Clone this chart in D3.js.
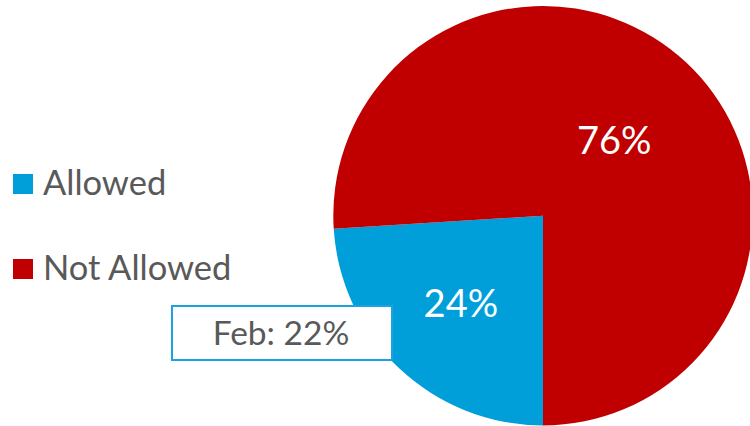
<!DOCTYPE html>
<html>
<head>
<meta charset="utf-8">
<script src="https://cdn.jsdelivr.net/npm/d3@7"></script>
<style>
  html, body { margin: 0; padding: 0; background: #fff; }
  svg { display: block; font-family: Lato, "Open Sans", sans-serif; }
</style>
</head>
<body>
<svg id="chart" width="750" height="426"></svg>
<script>
// Share of responses by category (percent)
const categories = ["Allowed", "Not Allowed"];
const values = [24, 76];
const colors = ["#009FDA", "#C00000"];
// Prior-month comparison callout
const priorLabel = "Feb";
const priorValue = 22;

const svg = d3.select("#chart");

const cx = 543, cy = 215.7, R = 209.7;

const data = categories.map((c, i) => ({ name: c, value: values[i], color: colors[i] }));

const pie = d3.pie().value(d => d.value).sort(null)
  .startAngle(Math.PI).endAngle(3 * Math.PI);
const arcs = pie(data);
const arc = d3.arc().innerRadius(0).outerRadius(R);

const g = svg.append("g").attr("transform", `translate(${cx},${cy})`);
g.selectAll("path.slice")
  .data(arcs)
  .join("path")
  .attr("class", "slice")
  .attr("d", arc)
  .attr("fill", d => d.data.color);

// Callout box with the previous month's value
const box = { x: 172, y: 306, w: 220, h: 54 };
svg.append("rect")
  .attr("x", box.x).attr("y", box.y)
  .attr("width", box.w).attr("height", box.h)
  .attr("fill", "#fff")
  .attr("stroke", "#1CA3DF")
  .attr("stroke-width", 2);
svg.append("text")
  .attr("x", box.x + box.w / 2 - 1)
  .attr("y", 345)
  .attr("text-anchor", "middle")
  .attr("font-size", 33.5)
  .attr("fill", "#595959")
  .text(`${priorLabel}: ${priorValue}%`);

// Percentage labels inside slices
const labelRadius = [120, 104];
g.selectAll("text.pct")
  .data(arcs)
  .join("text")
  .attr("class", "pct")
  .attr("transform", (d, i) => {
    const a = d3.arc().innerRadius(labelRadius[i]).outerRadius(labelRadius[i]);
    const [x, y] = a.centroid(d);
    return `translate(${x},${y})`;
  })
  .attr("dy", "0.36em")
  .attr("text-anchor", "middle")
  .attr("font-size", 38)
  .attr("fill", "#fff")
  .text(d => `${d.data.value}%`);

// Legend
const legend = svg.append("g");
const legendY = [174, 259];
data.forEach((d, i) => {
  legend.append("rect")
    .attr("x", 13).attr("y", legendY[i])
    .attr("width", 20).attr("height", 20)
    .attr("fill", d.color);
  legend.append("text")
    .attr("x", 43).attr("y", legendY[i] + 20.7)
    .attr("font-size", 34.5)
    .attr("fill", "#595959")
    .text(d.name);
});
</script>
</body>
</html>
